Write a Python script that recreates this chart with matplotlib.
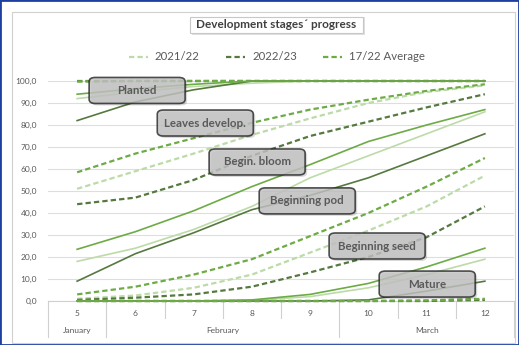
import matplotlib
matplotlib.use("Agg")
import matplotlib.pyplot as plt
from matplotlib.patches import FancyBboxPatch, Rectangle
from matplotlib.lines import Line2D

plt.rcParams['font.family'] = ['Lato', 'DejaVu Sans']

# ---------------- data ----------------
weeks = ["5", "6", "7", "8", "9", "10", "11", "12"]
months = ["January", "February", "March"]
month_spans = [1, 4, 3]
series_names = ["2021/22", "2022/23", "17/22 Average"]
yticks = [0, 10, 20, 30, 40, 50, 60, 70, 80, 90, 100]

full_2122 = [99.6, 100, 100, 100, 100, 100, 100, 100]
full_2223 = [100, 100, 100, 100, 100, 100, 100, 100]
full_avg = [99.8, 100, 100, 100, 100, 100, 100, 100]

planted_2122 = [92, 95, 97.5, 99, 100, 100, 100, 100]
planted_2223 = [82, 90.5, 96, 100, 100, 100, 100, 100]
planted_avg = [94, 96.5, 98.5, 100, 100, 100, 100, 100]

leaves_2122 = [51, 59, 67, 75.5, 83, 90, 95, 98]
leaves_2223 = [44, 47, 55, 66, 75, 81.5, 88, 94]
leaves_avg = [58.5, 67, 74, 81, 87, 91.5, 95.5, 98.5]

bloom_2122 = [18, 24, 32.5, 43, 56, 66, 76, 86]
bloom_2223 = [9, 21.5, 31, 41.5, 48, 56, 66, 76]
bloom_avg = [23.5, 31.5, 41, 52, 62, 72.5, 80, 87]

pod_2122 = [1, 2.5, 6, 12, 22, 32, 43, 57]
pod_2223 = [0.5, 1.5, 3, 6.5, 13, 20, 29, 43]
pod_avg = [3, 6.5, 12, 19, 29.5, 40, 52, 65]

seed_2122 = [0, 0, 0, 0.3, 2, 6, 12, 19]
seed_2223 = [0, 0, 0, 0, 0, 0.5, 4.5, 9]
seed_avg = [0, 0, 0, 0.5, 3, 8, 15.5, 24]

mature_2122 = [0, 0, 0, 0, 0, 0, 0, 0.5]
mature_2223 = [0, 0, 0, 0, 0, 0, 0, 0.5]
mature_avg = [0, 0, 0, 0, 0, 0, 0.3, 1]

stage_labels = ["Planted", "Leaves develop.", "Begin. bloom", "Beginning pod", "Beginning seed", "Mature"]
stage_label_pos = [(1.03, 95.7), (2.20, 80.9), (3.09, 63.2), (3.95, 45.5), (5.15, 25.0), (6.01, 7.7)]

# ---------------- style ----------------
c_light = '#bcdba8'
c_dark = '#55793f'
c_mid = '#6dab45'
txt = '#595959'

W, H = 519, 345
fig = plt.figure(figsize=(W / 100, H / 100), dpi=100)

def fx(px):
    return px / W

def fy(py):
    return 1 - py / H

# outer frame + blue border
fig.patches.append(Rectangle((fx(12), fy(343)), fx(515) - fx(12), fy(12) - fy(343),
                             transform=fig.transFigure, fill=False, ec='#d0d0d0', lw=0.8))
fig.patches.append(Rectangle((0, 0), 1, 1, transform=fig.transFigure, fill=False,
                             ec='#1f3fa0', lw=2.0))

ax = fig.add_axes([fx(48), fy(301), fx(514) - fx(48), fy(81) - fy(301)])
x = list(range(len(weeks)))
ax.set_xlim(-0.5, len(weeks) - 0.5)
ax.set_ylim(0, 100)

groups = [
    ('dash', full_2122, full_2223, full_avg),
    ('solid', planted_2122, planted_2223, planted_avg),
    ('dash', leaves_2122, leaves_2223, leaves_avg),
    ('solid', bloom_2122, bloom_2223, bloom_avg),
    ('dash', pod_2122, pod_2223, pod_avg),
    ('solid', seed_2122, seed_2223, seed_avg),
    ('dash', mature_2122, mature_2223, mature_avg),
]
for kind, s1, s2, s3 in groups:
    for vals, col in ((s1, c_light), (s2, c_dark), (s3, c_mid)):
        if kind == 'dash':
            ax.plot(x, vals, color=col, lw=1.6, ls=(0, (2.4, 1.4)), clip_on=False,
                    solid_capstyle='butt', dash_capstyle='butt', zorder=3)
        else:
            ax.plot(x, vals, color=col, lw=1.2, clip_on=False, zorder=3)

ax.set_yticks(yticks)
ax.set_yticklabels([f"{v:.1f}".replace('.', ',') for v in yticks], color=txt, fontsize=6)
ax.tick_params(axis='y', length=0, pad=8)
ax.set_xticks([])
ax.grid(axis='y', color='#dedede', lw=0.8)
ax.set_axisbelow(True)
for s in ['left', 'right', 'top']:
    ax.spines[s].set_visible(False)
ax.spines['bottom'].set_color('#d0d0d0')
ax.spines['bottom'].set_linewidth(0.8)

# multi-level category axis
trans = ax.get_xaxis_transform()
y_short = -17 / 220
y_long = -36 / 220
bounds_long = [-0.5]
acc = -0.5
for sp in month_spans:
    acc += sp
    bounds_long.append(acc)
for i in range(len(weeks) + 1):
    b = i - 0.5
    yb = y_long if b in bounds_long else y_short
    ax.plot([b, b], [0, yb], transform=trans, color='#d0d0d0', lw=0.8, clip_on=False)
for i, w in enumerate(weeks):
    ax.text(i, -12 / 220, w, transform=trans, ha='center', va='center', fontsize=6, color=txt)
for m, a, b in zip(months, bounds_long[:-1], bounds_long[1:]):
    ax.text((a + b) / 2, -29.5 / 220, m, transform=trans, ha='center', va='center', fontsize=6, color=txt)

# stage label boxes
bw, bh = 96, 26
for lab, (lx, ly) in zip(stage_labels, stage_label_pos):
    px, py = ax.transData.transform((lx, ly))
    cx, cy = px / W, py / H
    w, h = bw / W, bh / H
    shadow = FancyBboxPatch((cx - w / 2 + 2 / W, cy - h / 2 - 2 / H), w, h,
                            boxstyle="round,pad=0,rounding_size=0.012",
                            transform=fig.transFigure, fc='#000000', ec='none', alpha=0.15, zorder=4)
    box = FancyBboxPatch((cx - w / 2, cy - h / 2), w, h,
                         boxstyle="round,pad=0,rounding_size=0.012",
                         transform=fig.transFigure, fc='#c4c4c4', ec='#2a2a2a', lw=1.2,
                         alpha=0.82, zorder=5)
    fig.patches.append(shadow)
    fig.patches.append(box)
    fig.text(cx, cy, lab, ha='center', va='center', fontsize=8.3, fontweight='bold',
             color='#5a5a5a', zorder=6)

# title
fig.patches.append(Rectangle((fx(192), fy(35)), fx(365) - fx(192), fy(17) - fy(35),
                             transform=fig.transFigure, fc='#000000', ec='none', alpha=0.12))
fig.patches.append(Rectangle((fx(190), fy(33)), fx(363) - fx(190), fy(17) - fy(33),
                             transform=fig.transFigure, fc='white', ec='#c8c8c8', lw=0.8))
fig.text(fx(276.5), fy(25), "Development stages´ progress", ha='center', va='center',
         fontsize=8.5, fontweight='bold', color='#404040')

# legend
handles = [Line2D([], [], color=c, lw=1.6, ls=(0, (2.4, 1.4))) for c in (c_light, c_dark, c_mid)]
leg = fig.legend(handles, series_names, loc='center', bbox_to_anchor=(fx(277), fy(57)),
                 ncol=3, frameon=False, fontsize=8.2, handlelength=1.7, columnspacing=2.3,
                 handletextpad=0.6)
for t in leg.get_texts():
    t.set_color(txt)

fig.savefig("out.png", dpi=100)
